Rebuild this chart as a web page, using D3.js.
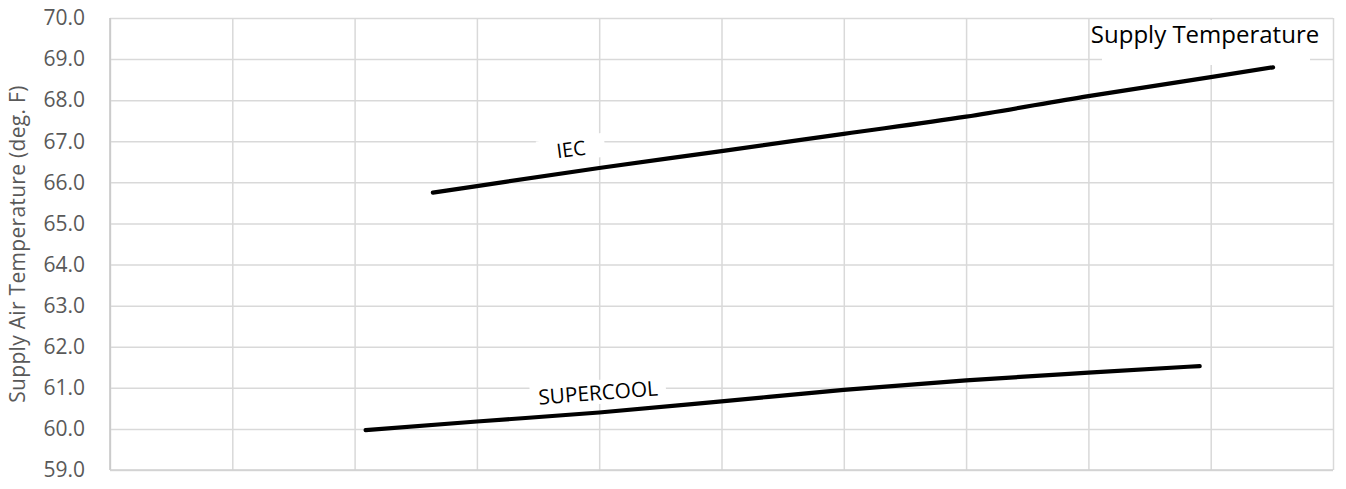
<!DOCTYPE html>
<html>
<head>
<meta charset="utf-8">
<script src="https://cdn.jsdelivr.net/npm/d3@7"></script>
<style>
  body { margin: 0; background: #fff; }
  .tick text { font-family: "Open Sans", sans-serif; }
</style>
</head>
<body>
<div id="chart"></div>
<script>
// Chart data (x in gridline units, y in deg. F)
var iecX = [2.64, 3, 4, 5, 6, 7, 8, 9, 9.51];
var iecY = [65.75, 65.91, 66.35, 66.76, 67.18, 67.60, 68.10, 68.56, 68.80];
var superX = [2.09, 3, 4, 5, 6, 7, 8, 8.91];
var superY = [59.97, 60.18, 60.40, 60.67, 60.95, 61.18, 61.37, 61.53];
var yTicks = [59, 60, 61, 62, 63, 64, 65, 66, 67, 68, 69, 70];
var xTicks = [0, 1, 2, 3, 4, 5, 6, 7, 8, 9, 10];
var seriesNames = ["IEC", "SUPERCOOL"];
var chartTitle = "Supply Temperature";
var yTitle = "Supply Air Temperature (deg. F)";

var svgWidth = 1346;
var svgHeight = 489;

var margin = { top: 18, right: 13, bottom: 19, left: 110 };
var width = svgWidth - margin.left - margin.right;
var height = svgHeight - margin.top - margin.bottom;

var svg = d3
  .select("#chart")
  .append("svg")
  .attr("width", svgWidth)
  .attr("height", svgHeight);

var chartGroup = svg
  .append("g")
  .attr("transform", `translate(${margin.left}, ${margin.top})`);

var xScale = d3.scaleLinear().domain([0, 10]).range([0, width]);
var yScale = d3.scaleLinear().domain([59, 70]).range([height, 0]);

// horizontal gridlines + y labels
var leftAxis = d3
  .axisLeft(yScale)
  .tickValues(yTicks)
  .tickSize(-width)
  .tickPadding(25)
  .tickFormat(d3.format(".1f"));

var yAxis = chartGroup.append("g").call(leftAxis);
yAxis.select(".domain").remove();
yAxis.selectAll(".tick line").attr("stroke", "#d9d9d9").attr("stroke-width", 1.5);
yAxis
  .selectAll(".tick text")
  .attr("fill", "#595959")
  .attr("font-size", 21);

// vertical gridlines
var bottomAxis = d3.axisBottom(xScale).tickValues(xTicks).tickSize(-height).tickFormat("");
var xAxis = chartGroup
  .append("g")
  .attr("transform", `translate(0, ${height})`)
  .call(bottomAxis);
xAxis.select(".domain").remove();
xAxis.selectAll(".tick line").attr("stroke", "#d9d9d9").attr("stroke-width", 1.5);

// axis lines
chartGroup
  .append("line")
  .attr("x1", 0).attr("x2", 0)
  .attr("y1", 0).attr("y2", height)
  .attr("stroke", "#c6c6c6").attr("stroke-width", 1.5);
chartGroup
  .append("line")
  .attr("x1", 0).attr("x2", width)
  .attr("y1", height).attr("y2", height)
  .attr("stroke", "#d0d0d0").attr("stroke-width", 1.5);

// y axis title
svg
  .append("text")
  .attr("transform", `translate(17, ${margin.top + height / 2}) rotate(-90)`)
  .attr("text-anchor", "middle")
  .attr("dominant-baseline", "central")
  .attr("font-family", "Open Sans, sans-serif")
  .attr("font-size", 21)
  .attr("letter-spacing", 0.3)
  .attr("fill", "#595959")
  .text(yTitle);

// lines
var line = d3
  .line()
  .x(d => xScale(d[0]))
  .y(d => yScale(d[1]))
  .curve(d3.curveMonotoneX);

var iecData = d3.zip(iecX, iecY);
var superData = d3.zip(superX, superY);

[iecData, superData].forEach(function(data) {
  chartGroup
    .append("path")
    .datum(data)
    .attr("d", line)
    .attr("fill", "none")
    .attr("stroke", "#000")
    .attr("stroke-width", 4.2)
    .attr("stroke-linecap", "round")
    .attr("stroke-linejoin", "round");
});

// series labels with white boxes, rotated along the lines
function addLabel(text, cx, cy, angle, boxW, size) {
  var g = svg
    .append("g")
    .attr("transform", `translate(${cx}, ${cy}) rotate(${angle})`);
  g.append("rect")
    .attr("x", -boxW / 2)
    .attr("y", -12)
    .attr("width", boxW)
    .attr("height", 24)
    .attr("fill", "#fff");
  g.append("text")
    .attr("text-anchor", "middle")
    .attr("dominant-baseline", "central")
    .attr("font-family", "Open Sans, sans-serif")
    .attr("font-size", size)
    .attr("fill", "#000")
    .text(text);
}

addLabel(seriesNames[0], 571, 149, -7.5, 68, 20);
addLabel(seriesNames[1], 598, 392, -4.5, 136, 20.8);

// title box in the top right
svg
  .append("rect")
  .attr("x", 1102)
  .attr("y", 20)
  .attr("width", 208)
  .attr("height", 45)
  .attr("fill", "#fff");
svg
  .append("text")
  .attr("x", 1205)
  .attr("y", 43)
  .attr("text-anchor", "middle")
  .attr("font-family", "Open Sans, sans-serif")
  .attr("font-size", 24)
  .attr("fill", "#000")
  .text(chartTitle);
</script>
</body>
</html>
